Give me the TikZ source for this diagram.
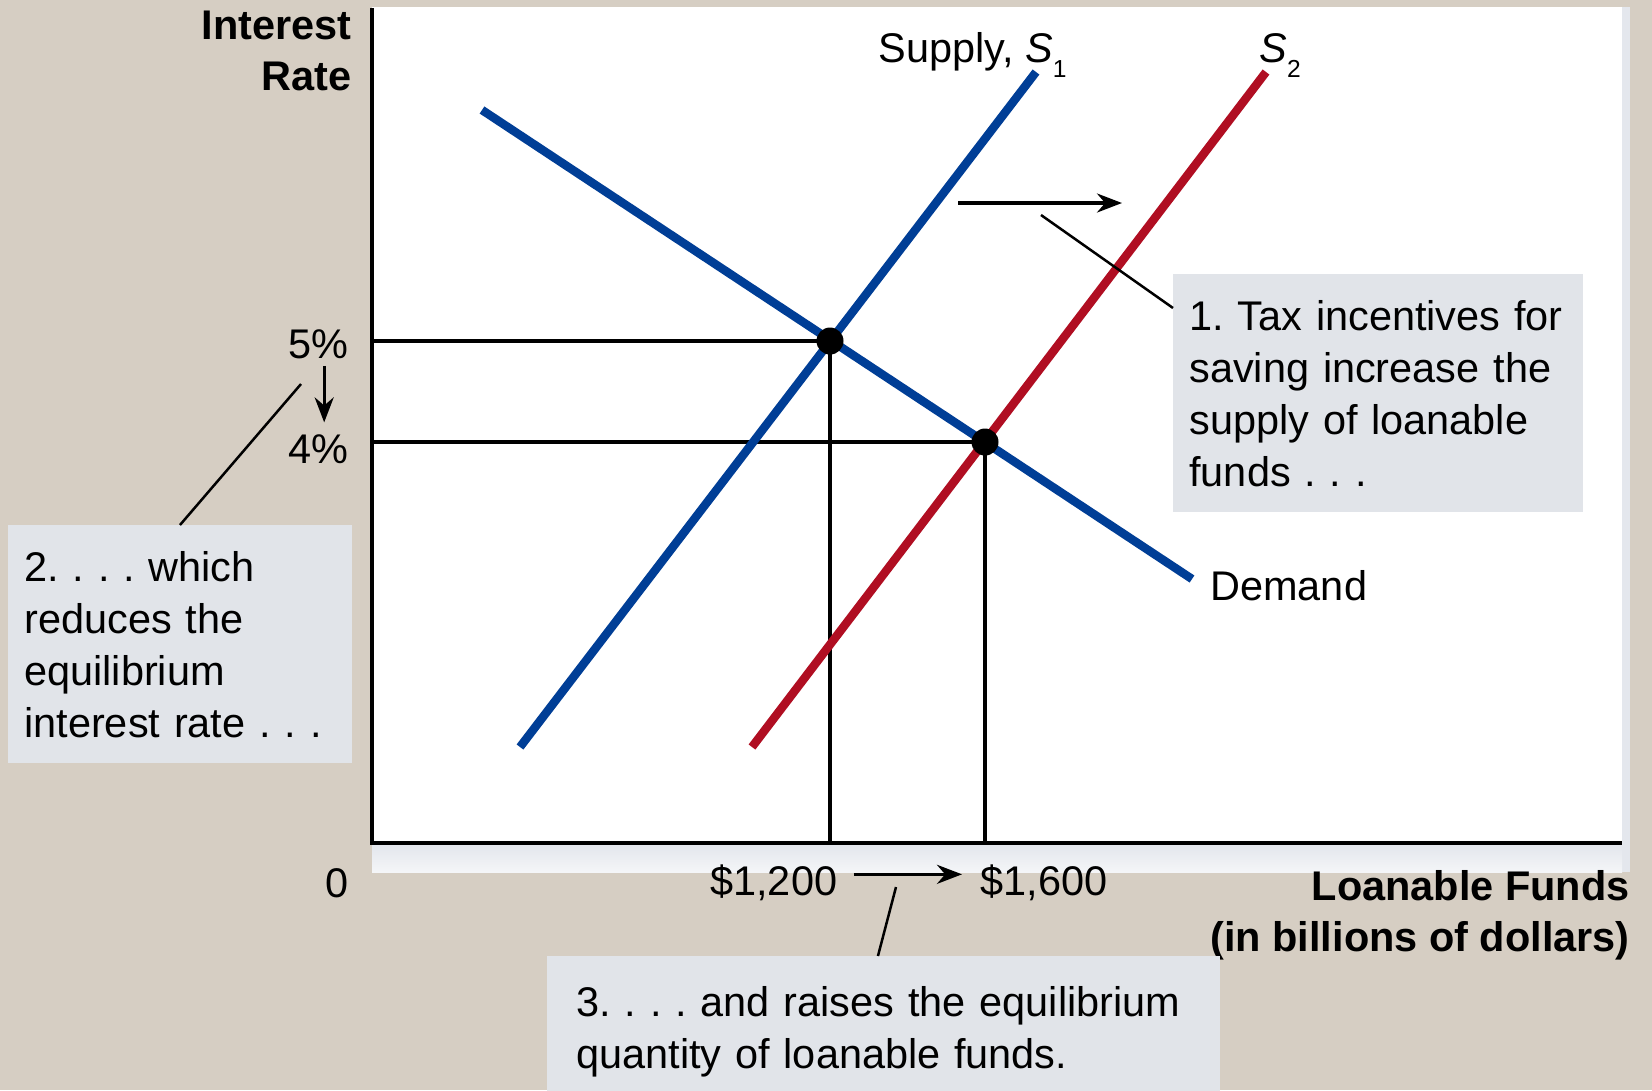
\documentclass[tikz,border=0pt]{standalone}
\usepackage{fontspec}
\setmainfont{Liberation Sans}
\usetikzlibrary{arrows.meta}
\frenchspacing

\definecolor{bgtan}{RGB}{214,206,195}
\definecolor{panelgray}{RGB}{228,231,237}
\definecolor{notefill}{RGB}{225,228,233}
\definecolor{supblue}{RGB}{0,62,150}
\definecolor{supred}{RGB}{176,14,34}
\newcommand{\lowsub}[1]{\raisebox{-0.3cm}{\fontsize{14}{14}\selectfont #1}}

\begin{document}
\begin{tikzpicture}[x=0.02cm, y=-0.02cm, >={Stealth[length=0.5cm,width=0.38cm]},
  font=\fontsize{23.6}{29.6}\selectfont,
  curve/.style={line width=0.17cm},
  guide/.style={line width=0.066cm},
  axisline/.style={line width=0.07cm},
  leader/.style={line width=0.05cm},
  lbl/.style={inner sep=0pt},
  bold/.style={font=\fontsize{23.6}{29}\selectfont\bfseries},
  note/.style={fill=notefill, align=left, anchor=north west, inner ysep=0pt},
  eqdot/.style={circle, fill=black, minimum size=0.54cm, inner sep=0pt}]
\useasboundingbox (0,0) rectangle (1652,1090);
\clip (0,0) rectangle (1652,1090);
\fill[bgtan] (0,0) rectangle (1652,1090);
\fill[panelgray] (372,7) rectangle (1630,872);
\fill[white] (372,7) rectangle (1622,843);
\shade[top color=panelgray, bottom color=panelgray!40!white] (372,846) rectangle (1622,872);

\coordinate (ytop) at (372,8);
\coordinate (o) at (372,843);
\coordinate (xend) at (1622,843);
\coordinate (A) at (830,341);
\coordinate (B) at (985,442);
\coordinate (d1) at (482,110);
\coordinate (d2) at (1192,579);
\coordinate (s1a) at (520,747);
\coordinate (s1b) at (1036,72);
\coordinate (s2a) at (752,747);
\coordinate (s2b) at (1266,72);

\draw[axisline] (ytop) -- (o) -- (xend);
\draw[guide] (A -| o) -- (A) -- (A |- o);
\draw[guide] (B -| o) -- (B) -- (B |- o);
\draw[curve, supblue] (s1a) -- (s1b);
\draw[curve, supred] (s2a) -- (s2b);
\draw[curve, supblue] (d1) -- (d2);
\node[eqdot] (eqA) at (A) {};
\node[eqdot] (eqB) at (B) {};

\node[lbl, bold, anchor=north east, align=right] (ylab) at (352,11) {Interest\\Rate};
\node[lbl, bold, anchor=north east, align=right] (xlab) at (1630,870) {Loanable Funds\\(in billions of dollars)};
\node[lbl, anchor=base east] (p5) at (349,358) {5\%};
\node[lbl, anchor=base east] (p4) at (349,463) {4\%};
\node[lbl, anchor=base] (zero) at (337,897) {0};
\node[lbl, anchor=base west] (q1) at (710,895) {\$1,200};
\node[lbl, anchor=base west] (q2) at (980,895) {\$1,600};
\node[lbl, anchor=base west] (s1lab) at (878,62) {Supply, \textit{S}\lowsub{1}};
\node[lbl, anchor=base west] (s2lab) at (1259,62) {\textit{S}\lowsub{2}};
\node[lbl, anchor=base west] (dlab) at (1210,600) {Demand};

\node[note, text width=7.56cm, inner xsep=0.32cm, minimum height=4.76cm] (n1) at (1173,274)
  {1. Tax incentives for\\saving increase the\\supply of loanable\\funds . . .};
\node[note, text width=6.24cm, inner xsep=0.32cm, minimum height=4.76cm] (n2) at (8,525)
  {2. . . . which\\reduces the\\equilibrium\\interest rate . . .};
\node[note, text width=12.3cm, inner xsep=0.58cm, inner ysep=0.6cm] (n3) at (547,956)
  {3. . . . and raises the equilibrium\\quantity of loanable funds.};

\coordinate (sh1) at (958,203);
\coordinate (sh2) at (1122,203);
\coordinate (l1) at (1041,215);
\coordinate (l2) at (301,384);
\coordinate (l3) at (896,887);
\draw[guide, ->] (sh1) -- (sh2);
\draw[guide, ->, shorten <=0.14cm, shorten >=0.23cm] ([xshift=0.11cm]p5.south) -- ([xshift=0.11cm]p4.north);
\draw[guide, ->, shorten <=0.32cm, shorten >=0.36cm] ([yshift=0.16cm]q1.east) -- ([yshift=0.16cm]q2.west);
\draw[leader] (l1) -- ([yshift=-0.68cm]n1.north west);
\draw[leader] ([xshift=3.44cm]n2.north west) -- (l2);
\draw[leader] (l3) -- ([xshift=6.62cm]n3.north west);
\end{tikzpicture}
\end{document}
